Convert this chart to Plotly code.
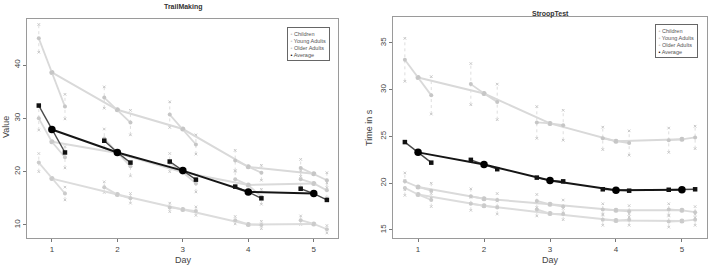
import plotly.graph_objects as go

# ---------------- data ----------------
days = [1, 2, 3, 4, 5]
session_offsets = [-0.2, 0.0, 0.2]
group_names = ["Children", "Young Adults", "Older Adults"]

# TrailMaking: values per day at (d-0.2, d, d+0.2)
tm_children = [45.0, 38.6, 32.2, 33.9, 31.6, 29.2, 30.7, 28.0, 25.1, 22.1, 20.9, 19.8, 20.7, 19.6, 18.4]
tm_young = [21.7, 18.7, 15.9, 17.1, 15.7, 15.0, 13.3, 12.9, 12.6, 10.9, 10.1, 10.0, 10.9, 10.2, 9.2]
tm_older = [30.0, 25.6, 22.7, 26.2, 23.5, 21.0, 21.7, 19.9, 17.8, 18.6, 17.5, 15.3, 18.6, 17.8, 16.5]
tm_average = [32.4, 27.9, 23.6, 25.8, 23.6, 21.7, 21.9, 20.2, 18.5, 17.2, 16.2, 15.0, 16.8, 15.9, 14.7]
# error half-widths at (d-0.2, d+0.2)
tm_children_err = [2.6, 2.3, 2.0, 2.3, 2.4, 1.8, 1.9, 1.4, 1.6, 1.4]
tm_young_err = [1.7, 1.2, 1.0, 0.9, 0.8, 0.8, 0.7, 0.7, 0.8, 0.7]
tm_older_err = [2.2, 2.0, 1.8, 1.8, 1.7, 1.6, 1.5, 1.4, 1.5, 1.4]

# StroopTest
st_children = [33.2, 31.3, 29.4, 30.6, 29.6, 28.7, 26.5, 26.4, 26.2, 24.8, 24.5, 24.3, 24.6, 24.7, 24.9]
st_young = [19.5, 18.8, 18.2, 17.8, 17.6, 17.4, 17.2, 16.75, 16.7, 16.1, 16.0, 16.1, 15.9, 15.95, 16.1]
st_older = [20.2, 19.6, 19.2, 18.6, 18.35, 18.2, 18.1, 17.75, 17.5, 17.2, 17.1, 17.0, 17.2, 17.1, 16.9]
st_average = [24.4, 23.3, 22.2, 22.5, 22.0, 21.5, 20.6, 20.3, 20.2, 19.35, 19.25, 19.2, 19.3, 19.3, 19.35]
st_children_err = [2.3, 2.0, 2.2, 1.9, 1.7, 1.6, 1.2, 1.3, 1.3, 1.2]
st_young_err = [0.8, 0.7, 0.7, 0.7, 0.7, 0.6, 0.6, 0.6, 0.6, 0.6]
st_older_err = [0.9, 0.8, 0.8, 0.7, 0.7, 0.7, 0.6, 0.6, 0.6, 0.6]

panel_titles = ["TrailMaking", "StroopTest"]
y_titles = ["Value", "Time in s"]
x_title = "Day"
tm_yticks = [10, 20, 30, 40]
st_yticks = [15, 20, 25, 30, 35]

# ---------------- styling ----------------
W, H = 709, 267
group_line = ["#d9d9d9", "#dcdcdc", "#dadada"]
group_marker = ["#c6c6c6", "#cbcbcb", "#c9c9c9"]
err_color = "#d6d6d6"

xs = [d + o for d in days for o in session_offsets]
side_idx = [i for i in range(15) if i % 3 != 1]
center_idx = [i for i in range(15) if i % 3 == 1]

fig = go.Figure()


def add_panel(xa, ya, series, errs, average):
    for g, (vals, err) in enumerate(zip(series, errs)):
        # error bars (dotted) at side sessions
        ex, ey, mx, my = [], [], [], []
        for k, i in enumerate(side_idx):
            ex += [xs[i], xs[i], None]
            ey += [vals[i] - err[k], vals[i] + err[k], None]
            mx += [xs[i], xs[i]]
            my += [vals[i] - err[k], vals[i] + err[k]]
        fig.add_trace(go.Scatter(x=ex, y=ey, mode="lines", xaxis=xa, yaxis=ya,
                                 line=dict(color=err_color, width=0.8, dash="dot"),
                                 showlegend=False, hoverinfo="skip"))
        fig.add_trace(go.Scatter(x=mx, y=my, mode="markers", xaxis=xa, yaxis=ya,
                                 marker=dict(color=group_marker[g], size=2.5, symbol="x-thin",
                                             line=dict(color=group_marker[g], width=1)),
                                 showlegend=False, hoverinfo="skip"))
        # day-to-day line through centres
        fig.add_trace(go.Scatter(x=[xs[i] for i in center_idx], y=[vals[i] for i in center_idx],
                                 mode="lines+markers", xaxis=xa, yaxis=ya,
                                 line=dict(color=group_line[g], width=2),
                                 marker=dict(color=group_marker[g], size=5),
                                 showlegend=False))
        # within-day segments
        sx, sy = [], []
        for d in range(5):
            sx += xs[3 * d:3 * d + 3] + [None]
            sy += vals[3 * d:3 * d + 3] + [None]
        fig.add_trace(go.Scatter(x=sx, y=sy, mode="lines+markers", xaxis=xa, yaxis=ya,
                                 line=dict(color=group_line[g], width=1.8),
                                 marker=dict(color=group_marker[g], size=4),
                                 showlegend=False))
    # average
    sx, sy = [], []
    for d in range(5):
        sx += xs[3 * d:3 * d + 3] + [None]
        sy += average[3 * d:3 * d + 3] + [None]
    fig.add_trace(go.Scatter(x=sx, y=sy, mode="lines+markers", xaxis=xa, yaxis=ya,
                             line=dict(color="#4a4a4a", width=1.4),
                             marker=dict(color="#111111", size=4.5, symbol="square"),
                             showlegend=False))
    fig.add_trace(go.Scatter(x=[xs[i] for i in center_idx], y=[average[i] for i in center_idx],
                             mode="lines+markers", xaxis=xa, yaxis=ya,
                             line=dict(color="#151515", width=2),
                             marker=dict(color="#000000", size=7.5),
                             showlegend=False))


add_panel("x", "y", [tm_children, tm_young, tm_older],
          [tm_children_err, tm_young_err, tm_older_err], tm_average)
add_panel("x2", "y2", [st_children, st_young, st_older],
          [st_children_err, st_young_err, st_older_err], st_average)

axis_common = dict(showgrid=False, zeroline=False, showline=True, mirror=True,
                   linecolor="#9a9a9a", linewidth=1, ticks="outside", ticklen=3,
                   tickcolor="#777777", tickfont=dict(size=8, color="#444444",
                                                      family="Liberation Sans, Arial"),
                   automargin=False)

fig.update_layout(
    width=W, height=H,
    margin=dict(l=0, r=0, t=0, b=0),
    paper_bgcolor="white", plot_bgcolor="white",
    showlegend=False,
    xaxis=dict(domain=[27 / W, 338 / W], range=[0.62, 5.37], tickvals=days, **axis_common),
    yaxis=dict(domain=[1 - 238 / H, 1 - 19 / H], range=[7.56, 48.63], tickvals=tm_yticks,
               tickangle=-90, **axis_common),
    xaxis2=dict(domain=[393 / W, 707 / W], range=[0.62, 5.38], tickvals=days, anchor="y2",
                **axis_common),
    yaxis2=dict(domain=[1 - 238 / H, 1 - 17 / H], range=[14.14, 37.78], tickvals=st_yticks,
                tickangle=-90, anchor="x2", **axis_common),
)

font_main = "Liberation Sans, Arial"
ann = []


def label(text, px, py, size, angle=0, color="#444"):
    ann.append(dict(text=text, x=px / W, y=1 - py / H, xref="paper", yref="paper",
                    xanchor="center", yanchor="middle", textangle=angle, showarrow=False,
                    font=dict(size=size, color=color, family=font_main)))


# titles
label("<b>" + panel_titles[0] + "</b>", 183, 7, 7, color="#333")
label("<b>" + panel_titles[1] + "</b>", 550, 14, 7, color="#333")
# axis titles
label(x_title, 183, 260, 9)
label(x_title, 550, 260, 9)
label(y_titles[0], 6, 127, 9, angle=-90)
label(y_titles[1], 369, 128, 9, angle=-90)

# legends
legend_names = group_names + ["Average"]
legend_colors = group_marker + ["#000000"]
legend_text = "<br>".join(
    f'<span style="color:{c}">•</span> {n}' for n, c in zip(legend_names, legend_colors))
for lx, ly in ((287, 27), (655, 24)):
    ann.append(dict(text=legend_text, x=lx / W, y=1 - ly / H, xref="paper", yref="paper",
                    xanchor="left", yanchor="top", align="left", showarrow=False,
                    bordercolor="#666", borderwidth=1, borderpad=2.5, bgcolor="white",
                    font=dict(size=5.5, color="#555", family=font_main)))

fig.update_layout(annotations=ann)
fig.write_html("out.html", config={"displayModeBar": False},
               post_script="document.body.style.margin='0';")
